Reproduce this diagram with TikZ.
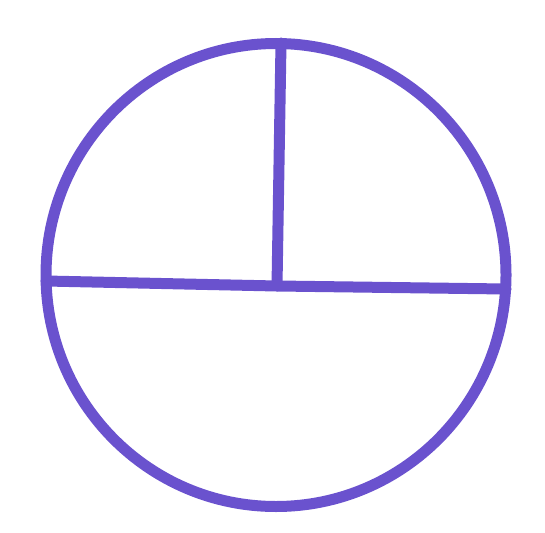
\documentclass[tikz,border=0pt]{standalone}
\definecolor{ink}{RGB}{106,82,206}
\begin{document}
\begin{tikzpicture}[x=1pt,y=-1pt,line width=11pt,line cap=round,
  inkline/.style={draw=ink}]
\useasboundingbox (0,0) rectangle (545,532);
\coordinate (c) at (276,275);
\coordinate (l) at (46,281);
\coordinate (r) at (506,289);
\coordinate (t) at (281,43);
\coordinate (m) at (277,286);
\draw[inkline] (c) circle[x radius=230,y radius=231.5];
\draw[inkline] (l) -- (m) -- (r);
\draw[inkline] (t) -- (m);
\end{tikzpicture}
\end{document}
